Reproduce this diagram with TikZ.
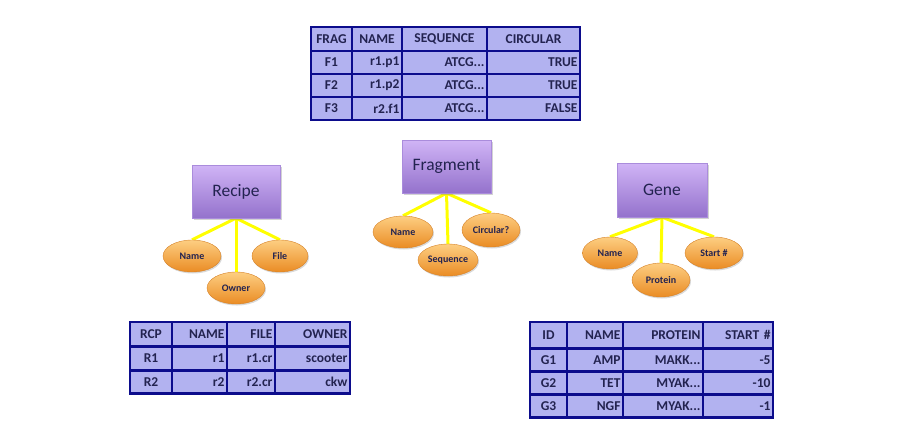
\documentclass[tikz,border=0pt]{standalone}
\usepackage{fontspec}
\setmainfont{Carlito}
\usetikzlibrary{shapes.geometric, shadows, backgrounds}

\definecolor{ink}{RGB}{35,35,80}
\definecolor{tblfill}{RGB}{178,178,240}
\definecolor{tblline}{RGB}{12,12,140}
\definecolor{boxtop}{RGB}{208,180,246}
\definecolor{boxbot}{RGB}{148,114,204}
\definecolor{boxedge}{RGB}{170,140,220}
\definecolor{attrtop}{RGB}{253,206,130}
\definecolor{attrbot}{RGB}{234,140,36}
\definecolor{attredge}{RGB}{214,130,40}
\definecolor{link}{RGB}{255,255,0}

\newcommand{\trail}{...}

\begin{document}
\begin{tikzpicture}[x=1pt, y=-1pt,
    cell/.style={draw=tblline, fill=tblfill, line width=2.6pt, inner sep=2.5pt, minimum height=23pt,
      text=ink, font=\bfseries\fontsize{13.5}{13.5}\selectfont},
    entity/.style={rectangle, minimum width=89pt, minimum height=53pt, top color=boxtop, bottom color=boxbot,
      draw=boxedge, text=ink, font=\fontsize{17.5}{17.5}\selectfont,
      drop shadow={shadow xshift=1.5pt, shadow yshift=-2pt, opacity=0.35}},
    attr/.style={ellipse, minimum width=58pt, minimum height=32pt, inner sep=0pt, top color=attrtop,
      bottom color=attrbot, draw=attredge, text=ink, font=\bfseries\fontsize{10}{10}\selectfont,
      drop shadow={shadow xshift=1pt, shadow yshift=-1.5pt, opacity=0.3}},
    spoke/.style={draw=link, line width=3pt}]

    \useasboundingbox (0,0) rectangle (900,440);

    % fragment table
    \foreach \t/\x/\w [count=\c] in {FRAG/331.5/36, NAME/377/45, SEQUENCE/444.5/80, CIRCULAR/533.5/88}
        \node[cell, minimum height=24pt, text width=\w pt, align=center] (frag-h\c) at (\x,39) {\t};
    \foreach \a/\b/\s/\d [count=\r] in {F1/r1.p1/ATCG\trail/TRUE, F2/r1.p2/ATCG\trail/TRUE, F3/r2.f1/ATCG\trail/FALSE}{
        \pgfmathsetmacro\yy{62.5+23*(\r-1)}
        \node[cell, text width=36pt, align=center] (frag-\r-1) at (331.5,\yy) {\a};
        \node[cell, text width=45pt, align=right] (frag-\r-2) at (377,\yy) {\b};
        \node[cell, text width=80pt, align=right] (frag-\r-3) at (444.5,\yy) {\s};
        \node[cell, text width=88pt, align=right] (frag-\r-4) at (533.5,\yy) {\d};
    }

    % recipe table
    \node[cell, minimum height=25pt, text width=37pt, align=center] (rcp-h1) at (151,334.5) {RCP};
    \node[cell, minimum height=25pt, text width=50pt, align=right] (rcp-h2) at (199.5,334.5) {NAME};
    \node[cell, minimum height=25pt, text width=43pt, align=right] (rcp-h3) at (251,334.5) {FILE};
    \node[cell, minimum height=25pt, text width=70pt, align=right] (rcp-h4) at (312.5,334.5) {OWNER};
    \foreach \a/\b/\f/\o [count=\r] in {R1/r1/r1.cr/scooter, R2/r2/r2.cr/ckw}{
        \pgfmathsetmacro\yy{358.5+23.5*(\r-1)}
        \node[cell, minimum height=23.5pt, text width=37pt, align=center] (rcp-\r-1) at (151,\yy) {\a};
        \node[cell, minimum height=23.5pt, text width=50pt, align=right] (rcp-\r-2) at (199.5,\yy) {\b};
        \node[cell, minimum height=23.5pt, text width=43pt, align=right] (rcp-\r-3) at (251,\yy) {\f};
        \node[cell, minimum height=23.5pt, text width=70pt, align=right] (rcp-\r-4) at (312.5,\yy) {\o};
    }

    % gene table
    \node[cell, minimum height=26pt, text width=32pt, align=center] (gene-h1) at (548.5,335) {ID};
    \node[cell, minimum height=26pt, text width=51pt, align=right] (gene-h2) at (595,335) {NAME};
    \node[cell, minimum height=26pt, text width=75pt, align=right] (gene-h3) at (663,335) {PROTEIN};
    \node[cell, minimum height=26pt, text width=65pt, align=right] (gene-h4) at (738,335) {START \#};
    \foreach \a/\b/\p/\s [count=\r] in {G1/AMP/MAKK\trail/-5, G2/TET/MYAK\trail/-10, G3/NGF/MYAK\trail/-1}{
        \pgfmathsetmacro\yy{360+23*(\r-1)}
        \node[cell, text width=32pt, align=center] (gene-\r-1) at (548.5,\yy) {\a};
        \node[cell, text width=51pt, align=right] (gene-\r-2) at (595,\yy) {\b};
        \node[cell, text width=75pt, align=right] (gene-\r-3) at (663,\yy) {\p};
        \node[cell, text width=65pt, align=right] (gene-\r-4) at (738,\yy) {\s};
    }

    % entities
    \node[entity, minimum width=88pt] (recipe) at (236,191.5) {Recipe};
    \node[entity] (fragment) at (446.5,166.5) {Fragment};
    \node[entity, minimum width=90pt, minimum height=54pt] (gene) at (662,190) {Gene};

    % attributes
    \node[attr] (rname) at (192,256) {Name};
    \node[attr, minimum width=56pt] (rfile) at (280,256) {File};
    \node[attr] (rowner) at (236,288) {Owner};

    \node[attr, minimum width=60pt] (fname) at (403,232) {Name};
    \node[attr, minimum width=60pt] (fseq) at (448,260) {Sequence};
    \node[attr, minimum height=34pt] (fcirc) at (491,230) {Circular?};

    \node[attr, minimum width=55pt] (gname) at (610,253) {Name};
    \node[attr, minimum height=34pt] (gprot) at (661,280) {Protein};
    \node[attr] (gstart) at (714,253) {Start \#};

    \begin{scope}[on background layer]
        \draw[spoke] (recipe.south) -- (rname.north);
        \draw[spoke] (recipe.south) -- (rfile.north);
        \draw[spoke] (recipe.south) -- (rowner.north);
        \draw[spoke] (fragment.south) -- (fname.north);
        \draw[spoke] (fragment.south) -- (fseq.north);
        \draw[spoke] (fragment.south) -- (fcirc.north);
        \draw[spoke] (gene.south) -- (gname.north);
        \draw[spoke] (gene.south) -- (gprot.north);
        \draw[spoke] (gene.south) -- (gstart.north);
    \end{scope}
\end{tikzpicture}
\end{document}
